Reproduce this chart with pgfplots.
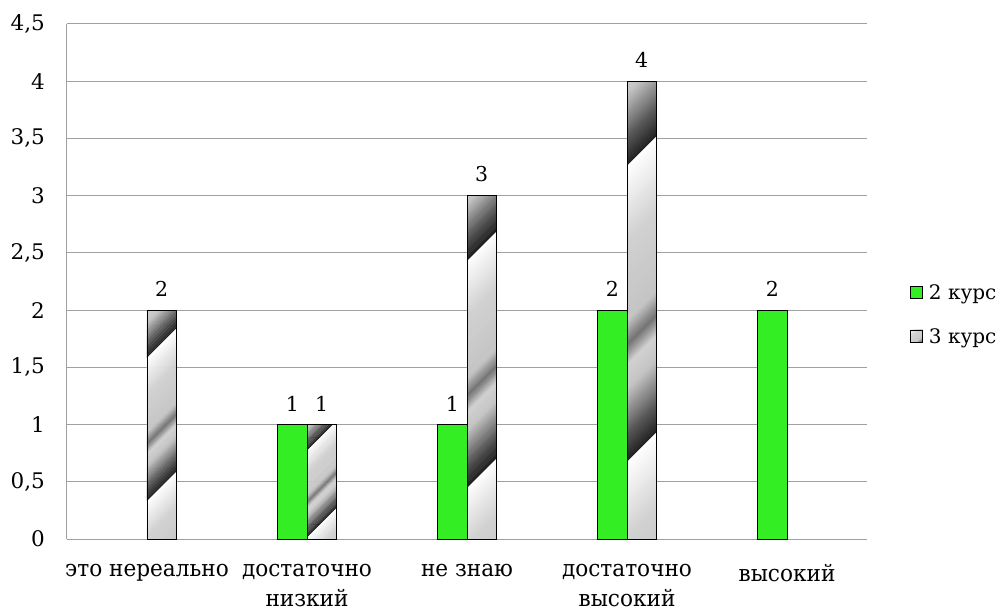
\documentclass[border=0pt]{standalone}
\usepackage{fontspec}
\setmainfont{DejaVu Serif}
\newfontfamily\catfont{DejaVu Serif}[FakeStretch=0.94]
\newfontfamily\numfont{DejaVu Serif}
\usepackage{pgfplots}
\pgfplotsset{compat=1.18}
\usetikzlibrary{patterns}
\definecolor{barGreen}{RGB}{51,238,34}
\definecolor{gridGray}{RGB}{160,160,160}

% diagonal chrome-like gradient stripes at 45 degrees; #2 = period (bp), #3 = phase (bp)
\newcommand\defchrome[3]{%
\pgfdeclarepatterninherentlycolored{#1}
  {\pgfpointorigin}{\pgfpoint{#2bp}{#2bp}}{\pgfpoint{#2bp}{#2bp}}
  {%
    \foreach \j in {0,...,99}{%
      \pgfmathsetmacro\tm{mod(mod((\j+0.5)/100*#2-#3,#2)+#2,#2)/#2}%
      \pgfmathsetmacro\lum{\tm<0.1 ? 0.12+2.3*\tm : (\tm<0.25 ? 0.35+(\tm-0.1)/0.15*0.42 : (\tm<0.33 ? 0.77+(\tm-0.25)/0.08*0.05 : (\tm<0.4 ? 0.82-(\tm-0.33)/0.07*0.37 : (\tm<0.48 ? 0.45+(\tm-0.4)/0.08*0.32 : (\tm<0.75 ? 0.77+(\tm-0.48)/0.27*0.05 : 0.82+(\tm-0.75)/0.25*0.18)))))}%
      \definecolor{stc}{gray}{\lum}%
      \pgfsetfillcolor{stc}%
      \pgfmathsetmacro\ya{\j/100*#2}%
      \pgfmathsetmacro\yc{(\j+1.2)/100*#2}%
      \pgfpathmoveto{\pgfpoint{0bp}{\ya bp}}%
      \pgfpathlineto{\pgfpoint{#2bp}{\ya bp+#2bp}}%
      \pgfpathlineto{\pgfpoint{#2bp}{\yc bp+#2bp}}%
      \pgfpathlineto{\pgfpoint{0bp}{\yc bp}}%
      \pgfpathclose
      \pgfpathmoveto{\pgfpoint{0bp}{\ya bp-#2bp}}%
      \pgfpathlineto{\pgfpoint{#2bp}{\ya bp}}%
      \pgfpathlineto{\pgfpoint{#2bp}{\yc bp}}%
      \pgfpathlineto{\pgfpoint{0bp}{\yc bp-#2bp}}%
      \pgfpathclose
      \pgfusepath{fill}%
    }%
  }}
\defchrome{chromeA}{143}{107}
\defchrome{chromeB}{87}{29}
\defchrome{chromeC}{227}{112}
\defchrome{chromeD}{296}{114}
\defchrome{chromeL}{40}{14}

\begin{document}
\numfont\fontsize{21bp}{26bp}\selectfont
\begin{tikzpicture}
\begin{axis}[
  at={(0,0)}, anchor=south west,
  scale only axis,
  width=800bp, height=515bp,
  xmin=-0.5, xmax=4.5,
  ymin=0, ymax=4.5,
  xtick={0,1,2,3,4},
  xticklabels={это нереально,{достаточно\\низкий},не знаю,{достаточно\\высокий},высокий},
  xticklabel style={align=center, yshift=-18bp, font=\catfont\fontsize{23bp}{30bp}\selectfont},
  ytick={0,0.5,1,1.5,2,2.5,3,3.5,4,4.5},
  yticklabel style={xshift=-15bp, font=\numfont\fontsize{21.5bp}{26bp}\selectfont},
  /pgf/number format/use comma,
  /pgf/number format/assume math mode=true,
  major tick length=0pt,
  axis x line*=bottom,
  axis y line*=left,
  axis line style={gridGray, line width=1bp, -},
  ymajorgrids,
  grid style={gridGray, line width=1bp},
  ybar,
  bar width=29.3bp,
  nodes near coords,
  every node near coord/.append style={yshift=6bp, font=\numfont\fontsize{20.5bp}{26bp}\selectfont},
  legend style={at={(1.05,0.433)}, anchor=west, draw=none, fill=none,
    font=\numfont\fontsize{20bp}{26bp}\selectfont, row sep=22bp,
    legend cell align=left,
    /tikz/every even column/.append style={column sep=0bp}},
  legend image code/.code={\draw[#1, line width=0.8bp] (0bp,-4bp) rectangle (12bp,8bp);},
]
\addplot[bar shift=-14.65bp, fill=barGreen, draw=black, line width=0.8bp]
  coordinates {(1,1) (2,1) (3,2) (4,2)};
\addlegendentry{\hspace{4bp}2 курс}
\addplot[bar shift=14.65bp, pattern=chromeA, draw=black, line width=0.8bp,
  legend image code/.code={\draw[black, line width=0.8bp, pattern=chromeL] (0bp,-4bp) rectangle (12bp,8bp);}]
  coordinates {(0,2)};
\addlegendentry{\hspace{4bp}3 курс}
\addplot[forget plot, bar shift=14.65bp, pattern=chromeB, draw=black, line width=0.8bp]
  coordinates {(1,1)};
\addplot[forget plot, bar shift=14.65bp, pattern=chromeC, draw=black, line width=0.8bp]
  coordinates {(2,3)};
\addplot[forget plot, bar shift=14.65bp, pattern=chromeD, draw=black, line width=0.8bp]
  coordinates {(3,4)};
\end{axis}
\pgfresetboundingbox
\path[use as bounding box] (-67bp,-73bp) rectangle (935bp,539bp);
\end{tikzpicture}
\end{document}
